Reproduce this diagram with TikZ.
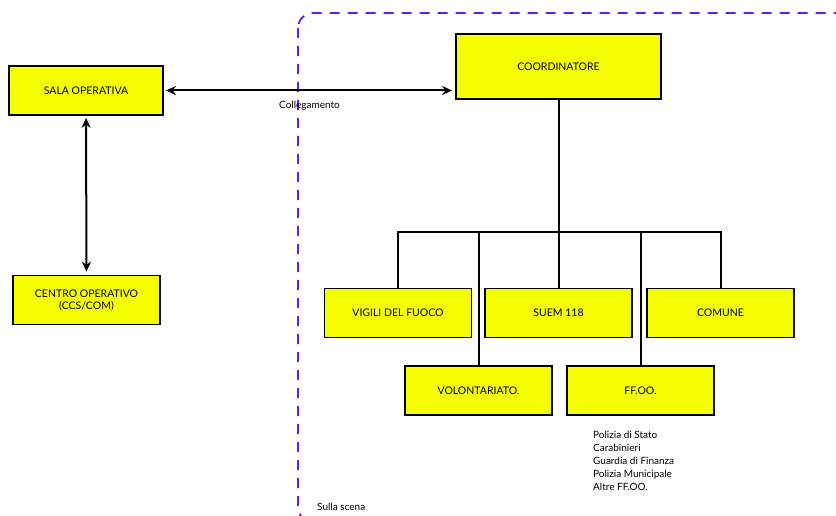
\documentclass[tikz,border=0pt]{standalone}
\usepackage{fontspec}
\setmainfont{Lato}
\usepackage{xcolor}
\usetikzlibrary{shapes,arrows,arrows.meta,positioning,fit,backgrounds,calc}

\definecolor{boxyellow}{RGB}{245,255,0}
\definecolor{scenablue}{RGB}{100,30,230}

\begin{document}
\begin{tikzpicture}[
    x=1pt, y=-1pt,
    font=\fontsize{10.5}{12}\selectfont,
    unit/.style={rectangle, draw, line width=1.8pt, fill=boxyellow, inner sep=0pt, minimum width=147pt, minimum height=49pt, align=center},
    link/.style={{Stealth[length=10pt,width=9pt]}-{Stealth[length=10pt,width=9pt]}, line width=2pt},
    tree/.style={line width=2pt}
]
    \useasboundingbox (0,0) rectangle (836,516);

    % area "sulla scena"
    \draw[scenablue, line width=1.8pt, dash pattern=on 10pt off 8pt, rounded corners=15pt] (298,13) rectangle (880,522);

    \node[unit, minimum width=154pt] (sala) at (86,90.5) {SALA OPERATIVA};
    \node[unit] (centro) at (86.5,300) {CENTRO OPERATIVO\\(CCS/COM)};
    \node[unit, minimum width=205pt, minimum height=65pt] (coord) at (558.5,66.5) {COORDINATORE};

    \node[unit] (vigili) at (398,313) {VIGILI DEL FUOCO};
    \node[unit] (suem) at (558.5,313) {SUEM 118};
    \node[unit] (comune) at (720.5,313) {COMUNE};
    \node[unit] (volont) at (478.5,390.5) {VOLONTARIATO.};
    \node[unit] (ffoo) at (640.5,390.5) {FF.OO.};

    \draw[link, shorten <=2pt, shorten >=3pt] (sala.east) -- node[below=6pt, pos=0.5, font=\fontsize{10}{12}\selectfont] (colleg) {Collegamento} (sala.east -| coord.west);
    \draw[link, shorten <=2pt, shorten >=3pt] (sala) -- (centro);

    % albero del coordinatore
    \coordinate (bus) at (558.5,232);
    \draw[tree] (coord) -- (bus);
    \draw[tree] (vigili.north) -- (vigili.north |- bus) -- (comune.north |- bus) -- (comune.north);
    \draw[tree] (suem.north) -- (suem.north |- bus);
    \draw[tree] (volont.north) -- (volont.north |- bus);
    \draw[tree] (ffoo.north) -- (ffoo.north |- bus);

    \node[anchor=north west, align=left, inner sep=0pt, font=\fontsize{10}{13}\selectfont] (forze) at (593,431) {Polizia di Stato\\Carabinieri\\Guardia di Finanza\\Polizia Municipale\\Altre FF.OO.};
    \node[anchor=west, inner sep=0pt, font=\fontsize{10}{12}\selectfont] (scena) at (317,507) {Sulla scena};
\end{tikzpicture}
\end{document}
